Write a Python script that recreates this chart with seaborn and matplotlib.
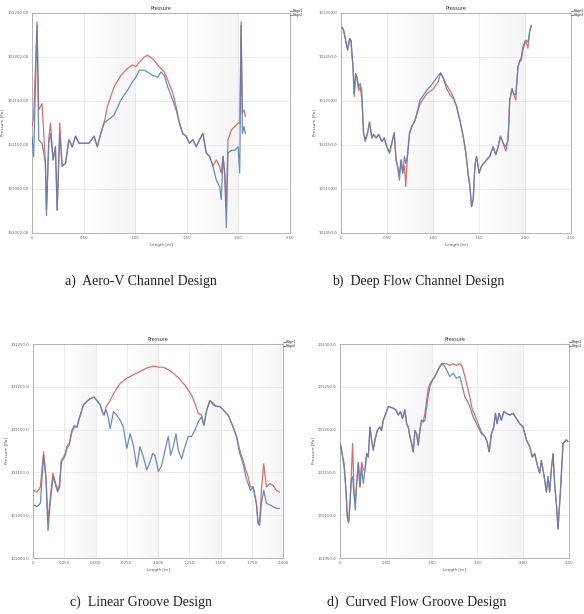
import matplotlib
matplotlib.use("Agg")
import matplotlib.pyplot as plt
import numpy as np
import pandas as pd
import seaborn as sns
from matplotlib.ticker import FuncFormatter, MultipleLocator

# ---------------------------------------------------------------------------
# Data (Pa along the edge length in m)
# ---------------------------------------------------------------------------
a_x = [0.000, 0.016, 0.049, 0.065, 0.097, 0.114, 0.130, 0.140, 0.162, 0.179,
       0.205, 0.227, 0.244, 0.269, 0.292, 0.325, 0.357, 0.390, 0.422, 0.455,
       0.503, 0.552, 0.601, 0.633, 0.666, 0.698, 0.731, 0.795, 0.860, 0.925,
       0.974, 1.006, 1.039, 1.088, 1.120, 1.169, 1.218, 1.250, 1.282, 1.315,
       1.364, 1.396, 1.429, 1.461, 1.494, 1.526, 1.558, 1.591, 1.623, 1.656,
       1.688, 1.721, 1.753, 1.786, 1.818, 1.834, 1.851, 1.867, 1.883, 1.899,
       1.932, 1.964, 1.997, 2.013, 2.026, 2.039, 2.055, 2.068]
a_edge1 = [101121, 101132, 101240, 101140, 101147, 101113, 101079, 101026, 101106, 101125,
           101083, 101098, 101026, 101125, 101076, 101079, 101106, 101098, 101110, 101102,
           101102, 101102, 101110, 101098, 101113, 101125, 101144, 101166, 101179, 101187,
           101191, 101189, 101194, 101200, 101202, 101198, 101191, 101187, 101183, 101174,
           101159, 101144, 101125, 101113, 101110, 101102, 101106, 101098, 101106, 101113,
           101091, 101087, 101076, 101083, 101076, 101068, 101087, 101068, 101030, 101106,
           101117, 101121, 101125, 101125, 101240, 101136, 101140, 101132]
a_edge2 = [101110, 101087, 101236, 101106, 101102, 101091, 101079, 101020, 101102, 101113,
           101083, 101098, 101026, 101113, 101076, 101079, 101106, 101098, 101110, 101102,
           101102, 101102, 101110, 101098, 101113, 101125, 101128, 101134, 101151, 101162,
           101172, 101177, 101185, 101185, 101183, 101179, 101177, 101183, 101179, 101166,
           101151, 101140, 101125, 101113, 101110, 101102, 101106, 101098, 101106, 101113,
           101091, 101087, 101076, 101060, 101053, 101038, 101087, 101068, 101006, 101091,
           101094, 101094, 101098, 101068, 101236, 101113, 101121, 101113]

b_x = [0.011, 0.029, 0.058, 0.072, 0.094, 0.108, 0.130, 0.144, 0.159, 0.173,
       0.191, 0.209, 0.227, 0.245, 0.264, 0.289, 0.310, 0.336, 0.354, 0.383,
       0.408, 0.444, 0.469, 0.498, 0.527, 0.552, 0.578, 0.599, 0.614, 0.635,
       0.653, 0.671, 0.690, 0.704, 0.722, 0.744, 0.769, 0.805, 0.859, 0.931,
       1.004, 1.058, 1.083, 1.112, 1.148, 1.184, 1.220, 1.256, 1.292, 1.328,
       1.357, 1.383, 1.401, 1.419, 1.437, 1.455, 1.473, 1.502, 1.527, 1.581,
       1.617, 1.653, 1.682, 1.708, 1.733, 1.762, 1.791, 1.816, 1.834, 1.859,
       1.877, 1.899, 1.924, 1.942, 1.960, 1.978, 2.007, 2.032, 2.051, 2.069]
b_edge1 = [101284, 101280, 101265, 101258, 101271, 101269, 101239, 101205, 101231, 101227,
           101212, 101216, 101201, 101164, 101154, 101164, 101176, 101158, 101162, 101158,
           101162, 101154, 101158, 101148, 101141, 101152, 101164, 101133, 101126, 101118,
           101133, 101118, 101126, 101103, 101137, 101162, 101171, 101178, 101197, 101208,
           101214, 101222, 101232, 101226, 101218, 101212, 101205, 101194, 101178, 101160,
           101141, 101116, 101103, 101080, 101088, 101126, 101137, 101118, 101126, 101133,
           101137, 101148, 101139, 101148, 101160, 101152, 101143, 101156, 101201, 101214,
           101208, 101201, 101239, 101245, 101246, 101258, 101269, 101260, 101279, 101286]
b_edge2 = [101284, 101280, 101265, 101258, 101271, 101269, 101239, 101208, 101231, 101227,
           101216, 101220, 101209, 101164, 101156, 101164, 101176, 101158, 101162, 101158,
           101162, 101154, 101158, 101148, 101141, 101152, 101164, 101133, 101126, 101110,
           101133, 101118, 101137, 101129, 101137, 101164, 101171, 101178, 101201, 101212,
           101221, 101229, 101232, 101226, 101214, 101207, 101203, 101194, 101178, 101160,
           101141, 101116, 101103, 101080, 101088, 101126, 101137, 101118, 101126, 101133,
           101137, 101148, 101139, 101148, 101160, 101152, 101148, 101156, 101201, 101214,
           101208, 101207, 101239, 101245, 101250, 101262, 101269, 101267, 101279, 101286]

c_x = [0.005, 0.032, 0.059, 0.085, 0.104, 0.120, 0.138, 0.160, 0.178, 0.197,
       0.213, 0.226, 0.245, 0.258, 0.271, 0.290, 0.311, 0.330, 0.351, 0.378,
       0.404, 0.431, 0.457, 0.489, 0.511, 0.537, 0.559, 0.569, 0.585, 0.604,
       0.617, 0.644, 0.670, 0.697, 0.723, 0.750, 0.777, 0.803, 0.830, 0.856,
       0.883, 0.910, 0.936, 0.957, 0.976, 1.003, 1.029, 1.056, 1.082, 1.101,
       1.122, 1.144, 1.162, 1.189, 1.215, 1.242, 1.269, 1.295, 1.322, 1.348,
       1.367, 1.388, 1.415, 1.441, 1.468, 1.495, 1.521, 1.561, 1.601, 1.628,
       1.654, 1.681, 1.702, 1.721, 1.739, 1.761, 1.787, 1.801, 1.814, 1.827,
       1.846, 1.867, 1.894, 1.920, 1.947, 1.973]
c_edge1 = [101079, 101077, 101083, 101124, 101095, 101042, 101071, 101099, 101089, 101079,
           101087, 101114, 101118, 101122, 101130, 101134, 101149, 101155, 101153, 101167,
           101179, 101183, 101186, 101188, 101184, 101179, 101169, 101167, 101177, 101181,
           101184, 101192, 101198, 101204, 101207, 101210, 101212, 101214, 101216, 101218,
           101220, 101222, 101223, 101224, 101224, 101223, 101223, 101222, 101220, 101218,
           101216, 101213, 101211, 101206, 101202, 101196, 101190, 101181, 101169, 101167,
           101155, 101173, 101184, 101181, 101177, 101177, 101173, 101167, 101153, 101142,
           101126, 101114, 101103, 101095, 101083, 101083, 101064, 101040, 101044, 101079,
           101110, 101083, 101087, 101085, 101079, 101077]
c_edge2 = [101062, 101060, 101064, 101120, 101091, 101032, 101064, 101095, 101087, 101077,
           101083, 101112, 101116, 101120, 101128, 101132, 101147, 101153, 101153, 101167,
           101179, 101183, 101186, 101188, 101184, 101179, 101169, 101167, 101173, 101163,
           101151, 101171, 101167, 101161, 101153, 101128, 101145, 101132, 101106, 101130,
           101118, 101103, 101112, 101122, 101120, 101101, 101108, 101126, 101142, 101120,
           101130, 101145, 101126, 101116, 101130, 101142, 101142, 101149, 101159, 101165,
           101155, 101171, 101184, 101179, 101177, 101177, 101173, 101167, 101153, 101142,
           101122, 101110, 101095, 101087, 101079, 101083, 101064, 101040, 101038, 101064,
           101079, 101064, 101062, 101060, 101058, 101058]

d_x = [0.007, 0.029, 0.047, 0.065, 0.080, 0.094, 0.109, 0.124, 0.138, 0.153,
       0.167, 0.182, 0.200, 0.218, 0.236, 0.254, 0.273, 0.291, 0.309, 0.327,
       0.345, 0.363, 0.382, 0.407, 0.436, 0.454, 0.472, 0.501, 0.527, 0.556,
       0.581, 0.610, 0.636, 0.661, 0.683, 0.709, 0.727, 0.745, 0.763, 0.781,
       0.799, 0.818, 0.836, 0.854, 0.872, 0.890, 0.908, 0.927, 0.945, 0.963,
       0.981, 1.010, 1.036, 1.072, 1.108, 1.134, 1.163, 1.199, 1.235, 1.272,
       1.308, 1.337, 1.363, 1.392, 1.417, 1.446, 1.472, 1.508, 1.544, 1.581,
       1.606, 1.628, 1.653, 1.679, 1.697, 1.715, 1.737, 1.762, 1.788, 1.817,
       1.853, 1.890, 1.926, 1.962, 1.999, 2.035, 2.071, 2.100, 2.126, 2.151,
       2.180, 2.198, 2.217, 2.235, 2.253, 2.271, 2.289, 2.307, 2.326, 2.344,
       2.362, 2.380, 2.406, 2.435, 2.471, 2.489]
d_edge1 = [101182, 101168, 101160, 101129, 101098, 101092, 101114, 101149, 101184, 101125,
           101117, 101137, 101160, 101133, 101162, 101153, 101153, 101172, 101168, 101203,
           101188, 101176, 101188, 101199, 101203, 101199, 101211, 101219, 101227, 101226,
           101225, 101223, 101217, 101221, 101213, 101223, 101207, 101203, 101192, 101184,
           101174, 101199, 101195, 101182, 101199, 101211, 101209, 101219, 101233, 101248,
           101254, 101258, 101262, 101270, 101277, 101277, 101277, 101275, 101277, 101275,
           101277, 101273, 101262, 101250, 101238, 101223, 101217, 101207, 101197, 101192,
           101186, 101174, 101195, 101203, 101219, 101207, 101219, 101211, 101221, 101219,
           101217, 101219, 101213, 101207, 101203, 101188, 101180, 101168, 101172, 101160,
           101149, 101164, 101153, 101141, 101127, 101145, 101127, 101153, 101172, 101135,
           101114, 101084, 101127, 101184, 101188, 101186]
d_edge2 = [101182, 101168, 101153, 101129, 101098, 101091, 101114, 101141, 101145, 101125,
           101106, 101137, 101162, 101133, 101156, 101137, 101153, 101172, 101168, 101203,
           101188, 101176, 101188, 101199, 101203, 101199, 101211, 101219, 101227, 101226,
           101225, 101223, 101217, 101221, 101213, 101223, 101207, 101203, 101192, 101184,
           101174, 101199, 101195, 101182, 101199, 101211, 101209, 101211, 101225, 101240,
           101250, 101258, 101262, 101270, 101277, 101275, 101270, 101262, 101266, 101260,
           101262, 101250, 101238, 101233, 101227, 101217, 101211, 101203, 101195, 101192,
           101186, 101174, 101195, 101203, 101219, 101207, 101219, 101211, 101221, 101219,
           101217, 101219, 101213, 101207, 101203, 101188, 101180, 101168, 101172, 101160,
           101149, 101164, 101153, 101141, 101127, 101145, 101127, 101153, 101172, 101135,
           101114, 101084, 101127, 101184, 101188, 101186]

SERIES = ["Edge1", "Edge2"]
CAPTIONS = ["a)  Aero-V Channel Design", "b)  Deep Flow Channel Design",
            "c)  Linear Groove Design", "d)  Curved Flow Groove Design"]

# ---------------------------------------------------------------------------
# Per-panel layout
# ---------------------------------------------------------------------------
W, H = 584, 614
panels = [
    # data, axes box in px (left, top, right, bottom), x range/step, y range, decimals
    dict(x=a_x, e1=a_edge1, e2=a_edge2, box=(32, 13, 290, 233), xmax=2.5, xstep=0.5,
         ylim=(101000, 101250), yfmt="%.2f", xdec=2),
    dict(x=b_x, e1=b_edge1, e2=b_edge2, box=(341, 13, 571, 233), xmax=2.5, xstep=0.5,
         ylim=(101050, 101300), yfmt="%.1f", xdec=2),
    dict(x=c_x, e1=c_edge1, e2=c_edge2, box=(33, 344, 283, 558), xmax=2.0, xstep=0.25,
         ylim=(101000, 101250), yfmt="%.1f", xdec=3),
    dict(x=d_x, e1=d_edge1, e2=d_edge2, box=(340, 344, 569, 558), xmax=2.5, xstep=0.5,
         ylim=(101050, 101300), yfmt="%.1f", xdec=2),
]
caption_pos = [(141, 281), (418, 281), (141, 602), (417, 602)]

sns.set_style("white")
plt.rcParams["font.family"] = ["DejaVu Sans"]

fig = plt.figure(figsize=(W / 100, H / 100), dpi=100)
palette = {"Edge1": "#d9605a", "Edge2": "#5b7fb8"}
band = np.linspace(0.0, 1.0, 64).reshape(1, -1)

for p, cap, (cx, cy) in zip(panels, CAPTIONS, caption_pos):
    l, t, r, b = p["box"]
    ax = fig.add_axes([l / W, 1 - b / H, (r - l) / W, (b - t) / H])
    ymin, ymax = p["ylim"]

    # alternating shaded bands between major ticks, fading in left -> right
    edges = np.arange(0, p["xmax"] + 1e-9, p["xstep"])
    for x0, x1 in zip(edges[1::2], edges[2::2]):
        ax.imshow(band, cmap="Greys", vmin=0, vmax=11, extent=(x0, x1, ymin, ymax),
                  aspect="auto", zorder=0, interpolation="bilinear")

    df = pd.DataFrame({
        "Length": list(p["x"]) * 2,
        "Pressure": list(p["e1"]) + list(p["e2"]),
        "Edge": [SERIES[0]] * len(p["x"]) + [SERIES[1]] * len(p["x"]),
    })
    sns.lineplot(data=df, x="Length", y="Pressure", hue="Edge", palette=palette,
                 linewidth=0.9, ax=ax, zorder=3, sort=False)
    for ln in ax.get_lines():
        ln.set_alpha(0.9)

    ax.set_xlim(0, p["xmax"])
    ax.set_ylim(ymin, ymax)
    ax.xaxis.set_major_locator(MultipleLocator(p["xstep"]))
    ax.yaxis.set_major_locator(MultipleLocator(50))
    xdec = p["xdec"]
    ax.xaxis.set_major_formatter(FuncFormatter(
        lambda v, _, d=xdec: "0" if abs(v) < 1e-9 else f"{v:.{d}f}"))
    ax.yaxis.set_major_formatter(FuncFormatter(lambda v, _, f=p["yfmt"]: f % v))
    ax.grid(True, color="#e3e3e3", linewidth=0.5, zorder=1)
    ax.set_axisbelow(True)
    ax.tick_params(labelsize=2.8, length=1.5, width=0.4, pad=1, colors="#666666")
    for s in ax.spines.values():
        s.set_color("#9a9a9a")
        s.set_linewidth(0.5)

    ax.set_title("Pressure", fontsize=3.5, pad=2, color="#333333")
    ax.set_xlabel("Length [m]", fontsize=3, labelpad=1.5, color="#555555")
    ax.set_ylabel("Pressure [Pa]", fontsize=3, labelpad=2, color="#555555")
    ax.legend(loc="upper left", bbox_to_anchor=(1.0, 1.02), frameon=False,
              fontsize=2.4, handlelength=0.5, handletextpad=0.2, borderaxespad=0.0,
              borderpad=0.1, labelspacing=0.1, title=None)

    fig.text(cx / W, 1 - cy / H, cap, ha="center", va="center", fontsize=10,
             family="Liberation Serif", color="#222222")

fig.savefig("out.png", dpi=100, facecolor="white")
